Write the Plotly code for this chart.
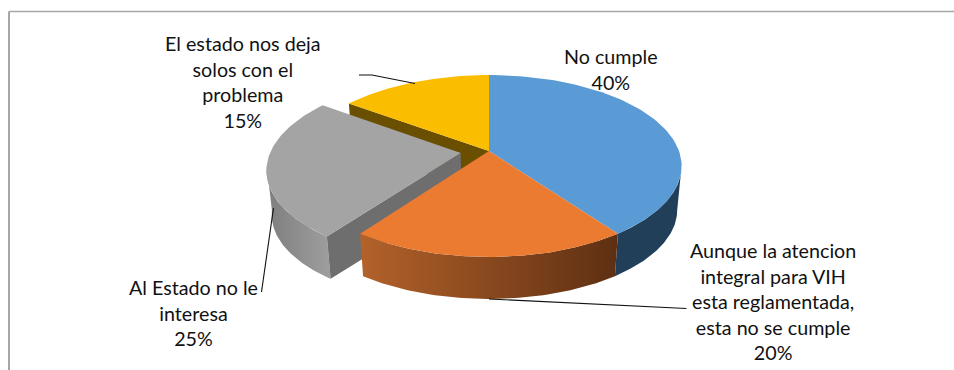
import numpy as np
import plotly.graph_objects as go

# Opinion shares, clockwise from twelve o'clock
categories = ["No cumple",
              "Aunque la atencion<br>integral para VIH<br>esta reglamentada,<br>esta no se cumple",
              "Al Estado no le<br>interesa",
              "El estado nos deja<br>solos con el<br>problema"]
shares = [40, 20, 25, 15]
pulled_out = [0, 0, 0.15, 0]

top_colors = ["#5B9BD5", "#EA7B30", "#A4A4A4", "#FBBD00"]
wall_left = ["#223F59", "#B3622A", "#7E7E7E", "#6B4F00"]
wall_right = ["#223F59", "#5E2F12", "#9E9E9E", "#6B4F00"]
cut_colors = [None, None, "#6E6E6E", "#6B4F00"]

# Label centres on the page, in pixels
label_x = [611, 773, 193, 243]
label_y = [69, 301, 312.5, 82]

# Tilted disc, page-pixel units
CX, CY = 489.0, 151.0
RX, RY = 190.0, 88.5
PERSP = 0.165
DEPTH, FLOOR_SCALE = 44.4, 0.977
FONT = "Lato"
TEXT = "#111111"

# Rim angles where the side wall meets the disc's outline
RIGHT_OUTLINE, LEFT_OUTLINE = 99.4, 262.0


def project(u, v, floor=False):
    s = 1.0 / (1.0 + PERSP * v)
    x, y = CX + RX * u * s, CY - RY * v * s
    if floor:
        x = CX + FLOOR_SCALE * (x - CX)
        y = CY + DEPTH + FLOOR_SCALE * (y - CY)
    return x, y


def rim(a0, a1, offset, floor=False, n=80):
    t = np.radians(np.linspace(a0, a1, n))
    return project(np.sin(t) + offset[0], np.cos(t) + offset[1], floor)


def pull_offset(a0, a1, amount):
    mid = np.radians((a0 + a1) / 2)
    return amount * np.sin(mid), amount * np.cos(mid)


def add_poly(fig, xs, ys, color=None, gradient=None):
    kw = dict(fillgradient=gradient) if gradient else dict(fillcolor=color)
    fig.add_trace(go.Scatter(x=xs, y=ys, mode="lines", fill="toself",
                             line=dict(width=0, color="rgba(0,0,0,0)"),
                             hoverinfo="skip", showlegend=False, **kw))


def add_wall(fig, i, a0, a1, offset):
    tx, ty = rim(a0, a1, offset)
    bx, by = rim(a0, a1, offset, floor=True)
    xs = np.r_[tx, bx[::-1], tx[0]]
    ys = np.r_[ty, by[::-1], ty[0]]
    if wall_left[i] == wall_right[i]:
        add_poly(fig, xs, ys, color=wall_left[i])
    else:
        add_poly(fig, xs, ys, gradient=dict(
            type="horizontal", start=float(xs.min()), stop=float(xs.max()),
            colorscale=[[0, wall_left[i]], [1, wall_right[i]]]))


def add_cut(fig, i, angle, offset):
    a = np.radians(angle)
    u = np.array([offset[0], np.sin(a) + offset[0]])
    v = np.array([offset[1], np.cos(a) + offset[1]])
    tx, ty = project(u, v)
    bx, by = project(u, v, floor=True)
    add_poly(fig, np.r_[tx, bx[::-1], tx[0]], np.r_[ty, by[::-1], ty[0]],
             color=cut_colors[i])


def add_top(fig, i, a0, a1, offset):
    ax, ay = project(offset[0], offset[1])
    rx, ry = rim(a0, a1, offset)
    add_poly(fig, np.r_[ax, rx, ax], np.r_[ay, ry, ay], color=top_colors[i])


edges = np.r_[0, np.cumsum(shares)] * 3.6
spans = [(edges[i], edges[i + 1]) for i in range(len(shares))]
offsets = [pull_offset(*spans[i], pulled_out[i]) for i in range(len(shares))]

fig = go.Figure()

# Back to front: yellow, grey, blue, orange
add_cut(fig, 3, spans[3][0], offsets[3])
add_top(fig, 3, *spans[3], offsets[3])

add_wall(fig, 2, spans[2][0], LEFT_OUTLINE, offsets[2])
add_cut(fig, 2, spans[2][0], offsets[2])
add_top(fig, 2, *spans[2], offsets[2])

add_wall(fig, 0, RIGHT_OUTLINE, spans[0][1], offsets[0])
add_top(fig, 0, *spans[0], offsets[0])

add_wall(fig, 1, *spans[1], offsets[1])
add_top(fig, 1, *spans[1], offsets[1])

# Leader lines from the slices out to their labels
leaders = [
    ([359, 372, 415], [75, 75, 83.5]),
    ([273.5, 261.5], [208, 292]),
    ([489, 686.5], [299, 308.5]),
]
for lx, ly in leaders:
    fig.add_trace(go.Scatter(x=lx, y=ly, mode="lines",
                             line=dict(color="#111111", width=1.1),
                             hoverinfo="skip", showlegend=False))

for name, value, x, y in zip(categories, shares, label_x, label_y):
    fig.add_annotation(x=x, y=y, xref="x", yref="y", showarrow=False,
                       text=f"{name}<br>{value}%", align="center",
                       font=dict(family=FONT, size=19.7, color=TEXT))

# Chart frame: only the top and left edges fall on the page
fig.add_shape(type="line", x0=9, x1=954, y0=11.5, y1=11.5, xref="x", yref="y",
              line=dict(color="#A6A6A6", width=1.5), layer="below")
fig.add_shape(type="line", x0=9, x1=9, y0=11.5, y1=370, xref="x", yref="y",
              line=dict(color="#A6A6A6", width=2), layer="below")

fig.update_xaxes(range=[0, 954], visible=False, fixedrange=True)
fig.update_yaxes(range=[370, 0], visible=False, fixedrange=True)
fig.update_layout(width=954, height=370, margin=dict(l=0, r=0, t=0, b=0),
                  paper_bgcolor="white", plot_bgcolor="white")

fig.write_html("out.html", config=dict(displayModeBar=False))
